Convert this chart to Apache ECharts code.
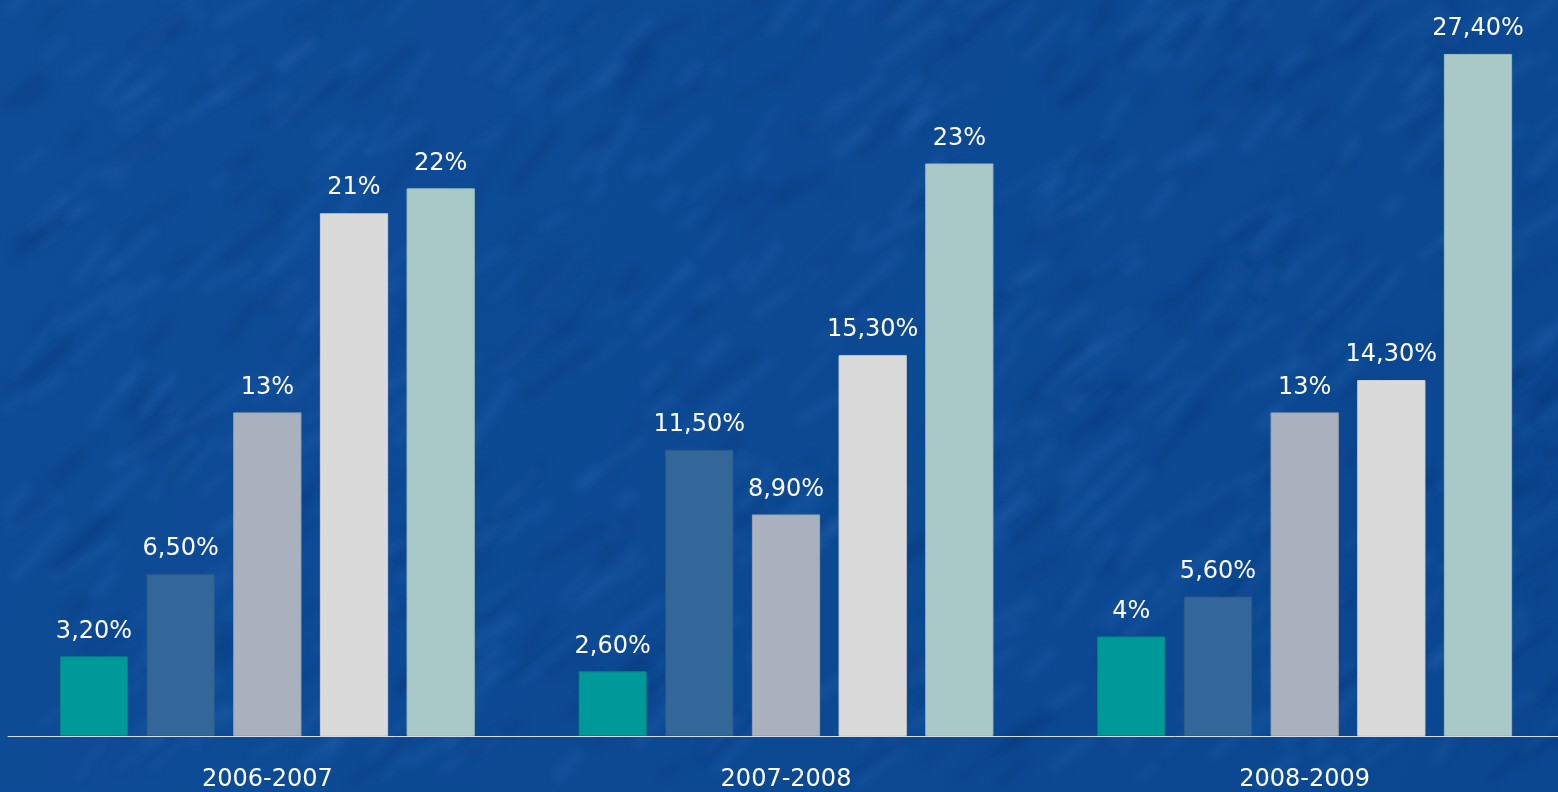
<!DOCTYPE html>
<html>
<head>
<meta charset="utf-8">
<title>2006-2009</title>
<script src="https://cdn.jsdelivr.net/npm/echarts@6/dist/echarts.min.js"></script>
<style>
  html, body { margin: 0; padding: 0; width: 100%; height: 100%; background: #0d4a93; overflow: hidden; }
  #chart { width: 1564px; height: 792px; }
</style>
</head>
<body>
<div id="chart"></div>
<script>
// School years on the category axis
const years = ['2006-2007', '2007-2008', '2008-2009'];

// One series per bar position within each year (percentages)
const serie1 = [3.2, 2.6, 4];
const serie2 = [6.5, 11.5, 5.6];
const serie3 = [13, 8.9, 13];
const serie4 = [21, 15.3, 14.3];
const serie5 = [22, 23, 27.4];

const seriesData = [serie1, serie2, serie3, serie4, serie5];
const seriesColors = ['#009999', '#336699', '#a9b1be', '#dadada', '#a9c9c8'];
const seriesBorders = ['#0b7f80', '#2d5b8a', '#9aa2ae', '#cfcfcf', '#9bbcbb'];

// French-style percentage: "13%" for whole numbers, "6,50%" otherwise
function pct(v) {
  if (Number.isInteger(v)) return v + '%';
  return v.toFixed(2).replace('.', ',') + '%';
}

// Mottled blue backdrop: base fill plus faint, soft diagonal streaks
function makeBackdrop(w, h) {
  const c = document.createElement('canvas');
  c.width = w; c.height = h;
  const g = c.getContext('2d');
  const grad = g.createLinearGradient(0, 0, w, h);
  grad.addColorStop(0, '#0f4c97');
  grad.addColorStop(1, '#0b4790');
  g.fillStyle = grad;
  g.fillRect(0, 0, w, h);
  let seed = 12345;
  const next = () => { seed = (seed * 1103515245 + 12345) % 2147483648; return seed / 2147483648; };
  g.filter = 'blur(4px)';
  for (let i = 0; i < 800; i++) {
    const x = next() * w, y = next() * h;
    const len = 20 + next() * 70;
    const ang = -0.75 + (next() - 0.5) * 0.5;
    g.strokeStyle = next() < 0.6 ? 'rgba(60,120,200,0.15)' : 'rgba(5,40,100,0.18)';
    g.lineWidth = 4 + next() * 8;
    g.beginPath();
    g.moveTo(x, y);
    g.lineTo(x + Math.cos(ang) * len, y + Math.sin(ang) * len);
    g.stroke();
  }
  return c;
}

const chart = echarts.init(document.getElementById('chart'), null, { renderer: 'canvas' });

const series = seriesData.map((data, i) => ({
  name: 'Série ' + (i + 1),
  type: 'bar',
  data: data,
  barGap: '27%',
  barCategoryGap: '20%',
  itemStyle: { color: seriesColors[i], borderColor: seriesBorders[i], borderWidth: 1 },
  label: {
    show: true,
    position: 'top',
    distance: 13,
    color: '#ffffff',
    fontFamily: 'DejaVu Sans',
    fontSize: 24,
    formatter: p => pct(p.value)
  },
  emphasis: { disabled: true }
}));

chart.setOption({
  animation: false,
  backgroundColor: { image: makeBackdrop(1564, 792), repeat: 'no-repeat' },
  grid: { left: 8, right: 0, top: 39, bottom: 56, containLabel: false },
  xAxis: {
    type: 'category',
    data: years,
    axisLine: { show: true, lineStyle: { color: '#d8dfe9', width: 1 } },
    axisTick: { show: false },
    axisLabel: {
      color: '#ffffff',
      fontFamily: 'DejaVu Sans',
      fontSize: 24,
      margin: 32
    }
  },
  yAxis: {
    type: 'value',
    min: 0,
    max: 28,
    show: false,
    splitLine: { show: false }
  },
  series: series
});
</script>
</body>
</html>
